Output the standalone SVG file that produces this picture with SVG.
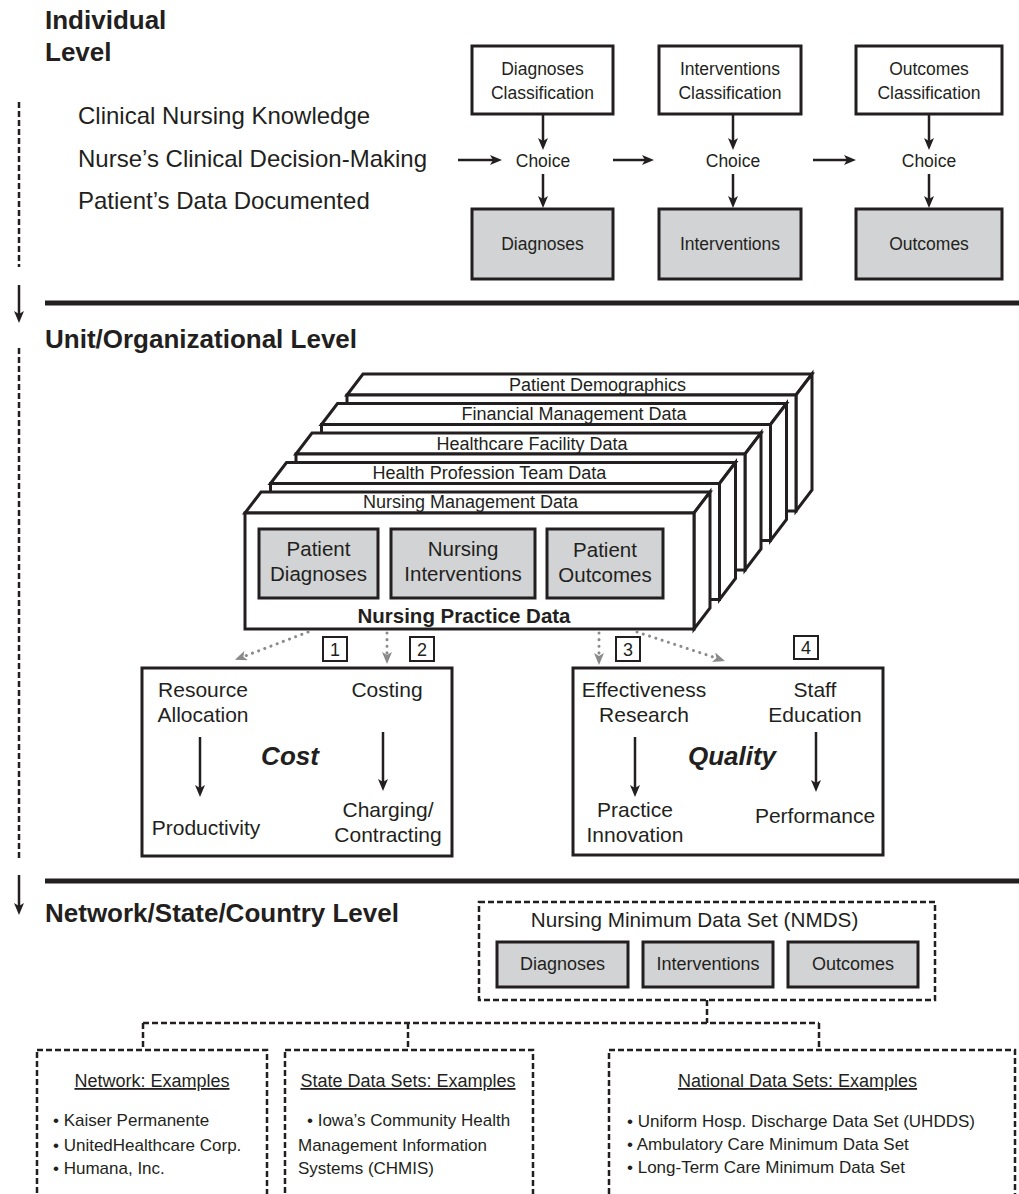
<svg xmlns="http://www.w3.org/2000/svg" width="1019" height="1194" viewBox="0 0 1019 1194">
<defs>
<style>
text{font-family:"Liberation Sans",Arial,Helvetica,sans-serif;fill:#231f20}
.h{font-size:26px;font-weight:bold}
.l{font-size:24px}
.s{font-size:17.5px}
.m{font-size:21px}
.st{font-size:18px}
.g{font-size:20.5px}
.b{font-size:17px}
.c{text-anchor:middle}
.bi{font-size:26px;font-weight:bold;font-style:italic}
.box{fill:#fff;stroke:#231f20;stroke-width:3}
.gbox{fill:#d1d3d4;stroke:#231f20;stroke-width:3}
.arr{stroke:#231f20;stroke-width:2.5;fill:none;marker-end:url(#ah)}
.dot{stroke:#8a8a8a;stroke-width:3;stroke-dasharray:0.1 6.5;stroke-linecap:round;fill:none;marker-end:url(#gh)}
.dash{fill:none;stroke:#231f20;stroke-width:2.5;stroke-dasharray:6 3}
.rule{stroke:#231f20;stroke-width:5}
.num{fill:#fff;stroke:#231f20;stroke-width:2}
.u{text-decoration:underline}
</style>
<marker id="ah" viewBox="0 0 12 10" refX="4" refY="5" markerWidth="12" markerHeight="10" markerUnits="userSpaceOnUse" orient="auto"><path d="M0,0L12,5L0,10L3,5z" fill="#231f20"/></marker>
<marker id="gh" viewBox="0 0 12 10" refX="4" refY="5" markerWidth="12" markerHeight="10" markerUnits="userSpaceOnUse" orient="auto"><path d="M0,0L12,5L0,10L3,5z" fill="#8a8a8a"/></marker>
<g id="slab" class="box" stroke-linejoin="miter">
<polygon points="0,0 16,-21 465,-21 449,0"/>
<polygon points="449,0 465,-21 465,95 449,116"/>
<rect x="0" y="0" width="449" height="116"/>
</g>
</defs>
<rect width="1019" height="1194" fill="#fff"/>

<g id="level-headings">
<text class="h" x="45" y="29">Individual</text>
<text class="h" x="45" y="61">Level</text>
<text class="h" x="45" y="348">Unit/Organizational Level</text>
<text class="h" x="45" y="922">Network/State/Country Level</text>
</g>

<g id="rules">
<line class="rule" x1="45" y1="303" x2="1019" y2="303"/>
<line class="rule" x1="45" y1="881" x2="1019" y2="881"/>
</g>

<g id="individual-text">
<text class="l" x="78" y="124">Clinical Nursing Knowledge</text>
<text class="l" x="78" y="167">Nurse’s Clinical Decision-Making</text>
<text class="l" x="78" y="209">Patient’s Data Documented</text>
</g>

<g id="diag-class"><rect class="box" x="472" y="46" width="141" height="68"/><text class="s c" x="542.5" y="75">Diagnoses</text><text class="s c" x="542.5" y="99">Classification</text></g>
<g id="int-class"><rect class="box" x="659" y="46" width="142" height="68"/><text class="s c" x="730" y="75">Interventions</text><text class="s c" x="730" y="99">Classification</text></g>
<g id="out-class"><rect class="box" x="856" y="46" width="146" height="68"/><text class="s c" x="929" y="75">Outcomes</text><text class="s c" x="929" y="99">Classification</text></g>

<g id="choice-1"><text class="s c" x="543" y="167">Choice</text></g>
<g id="choice-2"><text class="s c" x="733" y="167">Choice</text></g>
<g id="choice-3"><text class="s c" x="929" y="167">Choice</text></g>

<g id="diagnoses"><rect class="gbox" x="472" y="209" width="141" height="70"/><text class="s c" x="542.5" y="250">Diagnoses</text></g>
<g id="interventions"><rect class="gbox" x="659" y="209" width="142" height="70"/><text class="s c" x="730" y="250">Interventions</text></g>
<g id="outcomes"><rect class="gbox" x="856" y="209" width="146" height="70"/><text class="s c" x="929" y="250">Outcomes</text></g>

<g id="stack">
<g id="layer-patient-demographics"><use href="#slab" transform="translate(347,395)"/><text class="st c" x="597.5" y="391">Patient Demographics</text></g>
<g id="layer-financial"><use href="#slab" transform="translate(321.5,424.5)"/><text class="st c" x="574" y="420">Financial Management Data</text></g>
<g id="layer-facility"><use href="#slab" transform="translate(296,454)"/><text class="st c" x="532" y="450">Healthcare Facility Data</text></g>
<g id="layer-team"><use href="#slab" transform="translate(270.5,483.5)"/><text class="st c" x="489.5" y="479">Health Profession Team Data</text></g>
<g id="layer-nursing-practice"><use href="#slab" transform="translate(245,513)"/><text class="st c" x="470.5" y="508">Nursing Management Data</text>
<text class="g c" x="464" y="623" font-weight="bold">Nursing Practice Data</text></g>
</g>

<g id="patient-diagnoses"><rect class="gbox" x="259" y="529" width="119" height="69"/><text class="g c" x="318.5" y="556">Patient</text><text class="g c" x="318.5" y="581">Diagnoses</text></g>
<g id="nursing-interventions"><rect class="gbox" x="391" y="529" width="144" height="69"/><text class="g c" x="463" y="556">Nursing</text><text class="g c" x="463" y="581">Interventions</text></g>
<g id="patient-outcomes"><rect class="gbox" x="547" y="529" width="116" height="69"/><text class="g c" x="605" y="557">Patient</text><text class="g c" x="605" y="582">Outcomes</text></g>

<g id="num-1"><rect class="num" x="323" y="637" width="24" height="24"/><text class="st c" x="335" y="656">1</text></g>
<g id="num-2"><rect class="num" x="410" y="637" width="24" height="24"/><text class="st c" x="422" y="656">2</text></g>
<g id="num-3"><rect class="num" x="616" y="637" width="24" height="24"/><text class="st c" x="628" y="656">3</text></g>
<g id="num-4"><rect class="num" x="794" y="636" width="24" height="23"/><text class="st c" x="806" y="654">4</text></g>

<g id="cost">
<rect class="box" x="142" y="668" width="310" height="188"/>
<text class="m c" x="203" y="697">Resource</text>
<text class="m c" x="203" y="722">Allocation</text>
<text class="m c" x="387" y="697">Costing</text>
<text class="bi c" x="290" y="765">Cost</text>
<text class="m c" x="206" y="835">Productivity</text>
<text class="m c" x="388" y="817">Charging/</text>
<text class="m c" x="388" y="842">Contracting</text>
</g>

<g id="quality">
<rect class="box" x="573" y="668" width="310" height="187"/>
<text class="m c" x="644" y="697">Effectiveness</text>
<text class="m c" x="644" y="722">Research</text>
<text class="m c" x="815" y="697">Staff</text>
<text class="m c" x="815" y="722">Education</text>
<text class="bi c" x="732" y="765">Quality</text>
<text class="m c" x="635" y="817">Practice</text>
<text class="m c" x="635" y="842">Innovation</text>
<text class="m c" x="815" y="823">Performance</text>
</g>

<g id="nmds">
<rect class="dash" x="479" y="902" width="456" height="98"/>
<text class="c" x="694.5" y="927" font-size="20.7px">Nursing Minimum Data Set (NMDS)</text>
<g id="nmds-diagnoses"><rect class="gbox" x="497" y="942" width="131" height="45"/><text class="st c" x="562.5" y="970">Diagnoses</text></g>
<g id="nmds-interventions"><rect class="gbox" x="643" y="942" width="130" height="45"/><text class="st c" x="708" y="970">Interventions</text></g>
<g id="nmds-outcomes"><rect class="gbox" x="788" y="942" width="130" height="45"/><text class="st c" x="853" y="970">Outcomes</text></g>
</g>

<g id="network-examples">
<rect class="dash" x="37" y="1050" width="230" height="170"/>
<text class="st c u" x="152" y="1087">Network: Examples</text>
<text class="b" x="53" y="1126">• Kaiser Permanente</text>
<text class="b" x="53" y="1151">• UnitedHealthcare Corp.</text>
<text class="b" x="53" y="1174">• Humana, Inc.</text>
</g>
<g id="state-examples">
<rect class="dash" x="285" y="1050" width="248" height="170"/>
<text class="st c u" x="408" y="1087">State Data Sets: Examples</text>
<text class="b" x="307" y="1126">• Iowa’s Community Health</text>
<text class="b" x="298" y="1151">Management Information</text>
<text class="b" x="298" y="1174">Systems (CHMIS)</text>
</g>
<g id="national-examples">
<rect class="dash" x="609" y="1050" width="406" height="170"/>
<text class="st c u" x="797.5" y="1087">National Data Sets: Examples</text>
<text class="b" x="627" y="1127">• Uniform Hosp. Discharge Data Set (UHDDS)</text>
<text class="b" x="627" y="1150">• Ambulatory Care Minimum Data Set</text>
<text class="b" x="627" y="1173">• Long-Term Care Minimum Data Set</text>
</g>

<g id="connectors">
<path class="dash" d="M19,102V267M19,348V858"/>
<path class="arr" d="M19,285V315"/>
<path class="arr" d="M19,875V907"/>
<path class="arr" d="M458,160H494"/>
<path class="arr" d="M613,160H646"/>
<path class="arr" d="M813,160H848"/>
<path class="arr" d="M543,114V142"/>
<path class="arr" d="M543,174V200"/>
<path class="arr" d="M733,114V142"/>
<path class="arr" d="M733,174V200"/>
<path class="arr" d="M929,114V142"/>
<path class="arr" d="M929,174V200"/>
<path class="dot" d="M308,632L242.4,657"/>
<path class="dot" d="M387,633V656"/>
<path class="dot" d="M599,633V657"/>
<path class="dot" d="M637,632L717.4,658.4"/>
<path class="arr" d="M200,737V789"/>
<path class="arr" d="M383,732V783"/>
<path class="arr" d="M635,737V789"/>
<path class="arr" d="M816,732V784"/>
<path class="dash" d="M707,1000V1023M143,1023H819M143,1023V1050M408,1023V1050M819,1023V1050"/>
</g>
</svg>
